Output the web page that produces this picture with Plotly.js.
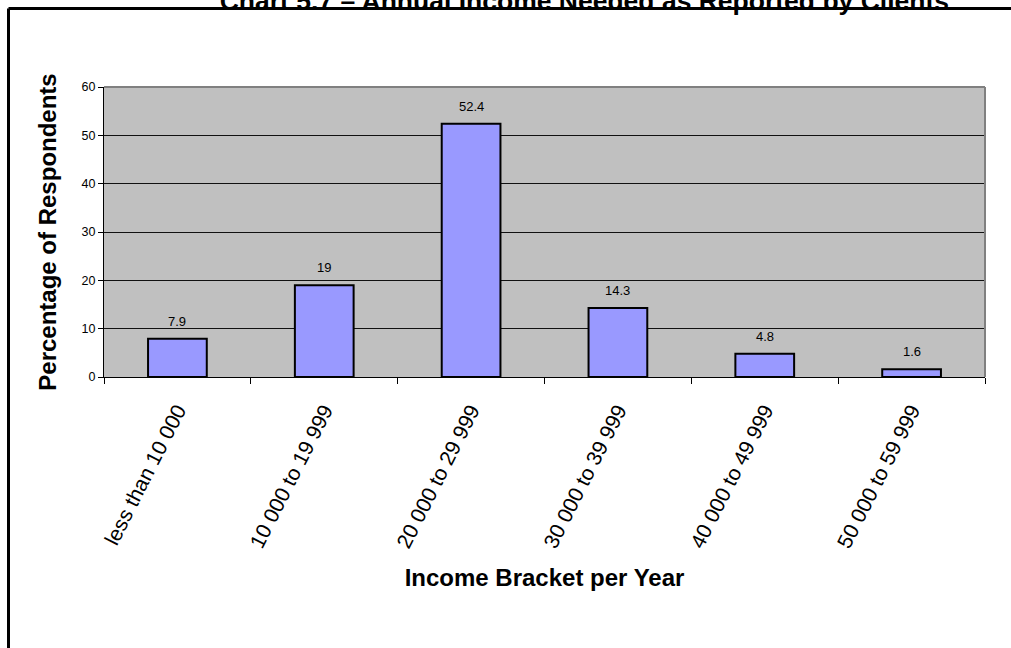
<!DOCTYPE html>
<html>
<head>
<meta charset="utf-8">
<script src="https://cdn.plot.ly/plotly-3.0.1.min.js"></script>
<style>
  html, body { margin: 0; padding: 0; background: #fff; }
  #chart { width: 1011px; height: 648px; }
</style>
</head>
<body>
<div id="chart"></div>
<script>
// Income brackets and share of respondents (%)
const brackets = [
  "less than 10 000",
  "10 000 to 19 999",
  "20 000 to 29 999",
  "30 000 to 39 999",
  "40 000 to 49 999",
  "50 000 to 59 999"
];
const percentages = [7.9, 19, 52.4, 14.3, 4.8, 1.6];
const yTicks = [0, 10, 20, 30, 40, 50, 60];

const FONT = "Liberation Sans, Arial, sans-serif";

const trace = {
  type: "bar",
  x: brackets,
  y: percentages,
  width: 0.4,
  marker: { color: "#9999FF", line: { color: "#000000", width: 2 } },
  hoverinfo: "x+y"
};

// value labels above each bar
const valueLabels = brackets.map((b, i) => ({
  x: b, y: percentages[i], xref: "x", yref: "y",
  text: String(percentages[i]),
  showarrow: false, yanchor: "bottom", yshift: 8,
  font: { family: FONT, size: 13, color: "#000" }
}));

const layout = {
  width: 1011,
  height: 648,
  margin: { l: 104, r: 26, t: 87, b: 271 },
  paper_bgcolor: "#ffffff",
  plot_bgcolor: "#C0C0C0",
  showlegend: false,
  title: {
    text: "<b>Chart 5.7 – Annual Income Needed as Reported by Clients</b>",
    font: { family: FONT, size: 26.5, color: "#000" },
    x: 0.578, xanchor: "center",
    y: 1 - 10 / 648, yref: "container", yanchor: "bottom"
  },
  xaxis: {
    type: "category",
    tickangle: -63,
    tickfont: { family: FONT, size: 21, color: "#000" },
    ticks: "outside", ticklen: 6, tickcolor: "#000", tickwidth: 1,
    tickson: "boundaries",
    ticklabelstandoff: 12,
    showline: true, linecolor: "#000", linewidth: 1,
    showgrid: false,
    title: {
      text: "<b>Income Bracket per Year</b>",
      font: { family: FONT, size: 24, color: "#000" },
      standoff: 18
    }
  },
  yaxis: {
    range: [0, 60],
    tickvals: yTicks,
    tickfont: { family: FONT, size: 12.5, color: "#000" },
    ticks: "outside", ticklen: 5, tickcolor: "#000", tickwidth: 1,
    showline: true, linecolor: "#000", linewidth: 1,
    showgrid: true, gridcolor: "#111", gridwidth: 1,
    zeroline: false,
    title: {
      text: "<b>Percentage of Respondents</b>",
      font: { family: FONT, size: 24, color: "#000" },
      standoff: 18
    }
  },
  annotations: valueLabels,
  shapes: [
    // plot frame, top and right edges
    { type: "line", xref: "paper", yref: "paper", x0: 0, x1: 1, y0: 1, y1: 1,
      line: { color: "#808080", width: 2 } },
    { type: "line", xref: "paper", yref: "paper", x0: 1, x1: 1, y0: 0, y1: 1,
      line: { color: "#808080", width: 2 } },
    // outer chart border
    { type: "line", xref: "paper", yref: "paper",
      x0: (8.5 - 104) / 881, x1: 1.2, y0: (377 - 8.5) / 290, y1: (377 - 8.5) / 290,
      line: { color: "#000", width: 3 } },
    { type: "line", xref: "paper", yref: "paper",
      x0: (8.5 - 104) / 881, x1: (8.5 - 104) / 881, y0: (377 - 8.5) / 290, y1: -1.2,
      line: { color: "#000", width: 3 } }
  ]
};

Plotly.newPlot("chart", [trace], layout, { displayModeBar: false, staticPlot: true });
</script>
</body>
</html>
